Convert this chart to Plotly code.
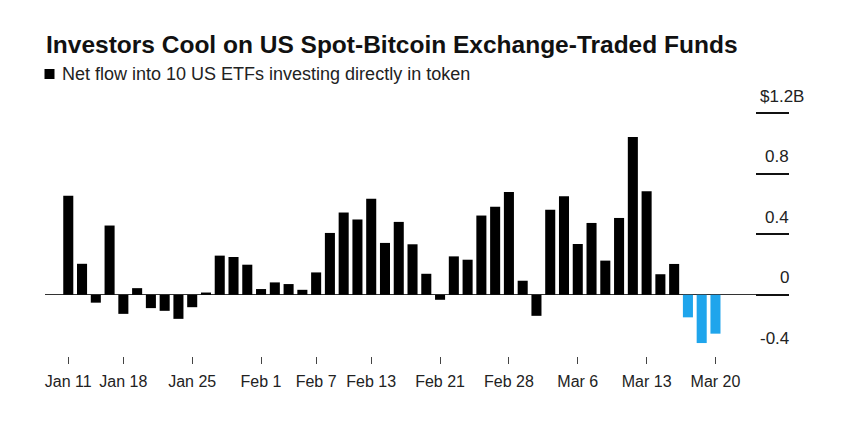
import plotly.graph_objects as go

# ---------------- data ----------------
dates = [
    "2024-01-11", "2024-01-12", "2024-01-16", "2024-01-17", "2024-01-18", "2024-01-19",
    "2024-01-22", "2024-01-23", "2024-01-24", "2024-01-25", "2024-01-26",
    "2024-01-29", "2024-01-30", "2024-01-31", "2024-02-01", "2024-02-02",
    "2024-02-05", "2024-02-06", "2024-02-07", "2024-02-08", "2024-02-09",
    "2024-02-12", "2024-02-13", "2024-02-14", "2024-02-15", "2024-02-16",
    "2024-02-20", "2024-02-21", "2024-02-22", "2024-02-23",
    "2024-02-26", "2024-02-27", "2024-02-28", "2024-02-29", "2024-03-01",
    "2024-03-04", "2024-03-05", "2024-03-06", "2024-03-07", "2024-03-08",
    "2024-03-11", "2024-03-12", "2024-03-13", "2024-03-14", "2024-03-15",
    "2024-03-18", "2024-03-19", "2024-03-20",
]
net_flow_bn = [
    0.655, 0.205, -0.052, 0.458, -0.126, 0.044,
    -0.088, -0.106, -0.159, -0.082, 0.015,
    0.259, 0.250, 0.199, 0.038, 0.082,
    0.071, 0.033, 0.148, 0.409, 0.544,
    0.498, 0.635, 0.343, 0.482, 0.334,
    0.139, -0.033, 0.254, 0.232,
    0.524, 0.582, 0.679, 0.093, -0.139,
    0.563, 0.651, 0.336, 0.475, 0.226,
    0.508, 1.044, 0.684, 0.136, 0.204,
    -0.149, -0.319, -0.257,
]
highlight_from = "2024-03-18"

x_tick_dates = ["2024-01-11", "2024-01-18", "2024-01-25", "2024-02-01", "2024-02-07",
                "2024-02-13", "2024-02-21", "2024-02-28", "2024-03-06", "2024-03-13",
                "2024-03-20"]
x_tick_text = ["Jan 11", "Jan 18", "Jan 25", "Feb 1", "Feb 7", "Feb 13", "Feb 21",
               "Feb 28", "Mar 6", "Mar 13", "Mar 20"]
y_tick_vals = [-0.4, 0, 0.4, 0.8, 1.2]
y_tick_text = ["-0.4", "0", "0.4", "0.8", "$1.2B"]

title_text = "Investors Cool on US Spot-Bitcoin Exchange-Traded Funds"
legend_text = "Net flow into 10 US ETFs investing directly in token"

# ---------------- styling ----------------
BLACK = "#000000"
BLUE = "#1fa5ec"
FONT = "Liberation Sans, Arial, Helvetica, sans-serif"

W, H = 844, 445
ML, MR, MT, MB = 45, 55, 90, 89
PW, PH = W - ML - MR, H - MT - MB


def px_x(px):
    return (px - ML) / PW


def px_y(py):
    return (H - MB - py) / PH


colors = [BLUE if d >= highlight_from else BLACK for d in dates]

fig = go.Figure()
fig.add_trace(go.Bar(
    x=dates, y=net_flow_bn, marker=dict(color=colors, line=dict(width=0)),
    showlegend=False, hoverinfo="x+y",
))

annotations = [
    dict(text="<b>" + title_text + "</b>", x=px_x(44), y=px_y(44), xref="paper", yref="paper",
         xanchor="left", yanchor="middle", showarrow=False,
         font=dict(family=FONT, size=24.5, color="#111111")),
    dict(text=legend_text, x=px_x(60), y=px_y(73.5), xref="paper", yref="paper",
         xanchor="left", yanchor="middle", showarrow=False,
         font=dict(family=FONT, size=18, color="#222222")),
]
for v, t in zip(y_tick_vals, y_tick_text):
    if t.endswith("B"):
        # unit label hangs past the right edge of the numbers
        annotations.append(dict(text=t, x=px_x(758), y=v, xref="paper", yref="y",
                                xanchor="left", yanchor="middle", yshift=17, showarrow=False,
                                font=dict(family=FONT, size=17, color="#222222")))
    else:
        annotations.append(dict(text=t, x=1, y=v, xref="paper", yref="y", xanchor="right",
                                yanchor="middle", yshift=17, showarrow=False, xshift=2,
                                font=dict(family=FONT, size=17, color="#222222")))

fig.update_layout(
    width=W, height=H,
    margin=dict(l=ML, r=MR, t=MT, b=MB, pad=0),
    paper_bgcolor="white", plot_bgcolor="white",
    bargap=0.27,
    annotations=annotations,
    shapes=[dict(type="rect", xref="paper", yref="paper",
                 x0=px_x(44.5), x1=px_x(54.5), y0=px_y(79), y1=px_y(69),
                 fillcolor=BLACK, line=dict(width=0))],
    xaxis=dict(type="category", categoryorder="array", categoryarray=dates,
               range=[-1.69, 52.34], tickvals=x_tick_dates, ticktext=x_tick_text,
               ticks="outside", ticklen=7, tickwidth=1, tickcolor="#444444",
               ticklabelstandoff=4, showgrid=False, showline=False, zeroline=False,
               tickfont=dict(family=FONT, size=16, color="#222222"), fixedrange=True),
    yaxis=dict(range=[-0.4046, 1.354], side="right", tickvals=y_tick_vals,
               showticklabels=False, ticks="inside", ticklen=33, tickwidth=1.6,
               tickcolor="#111111", showgrid=False, showline=False,
               zeroline=True, zerolinecolor="#333333", zerolinewidth=1, fixedrange=True),
)

fig.write_html("out.html", config={"displayModeBar": False},
               post_script="document.body.style.margin='0px';document.body.style.overflow='hidden';")
